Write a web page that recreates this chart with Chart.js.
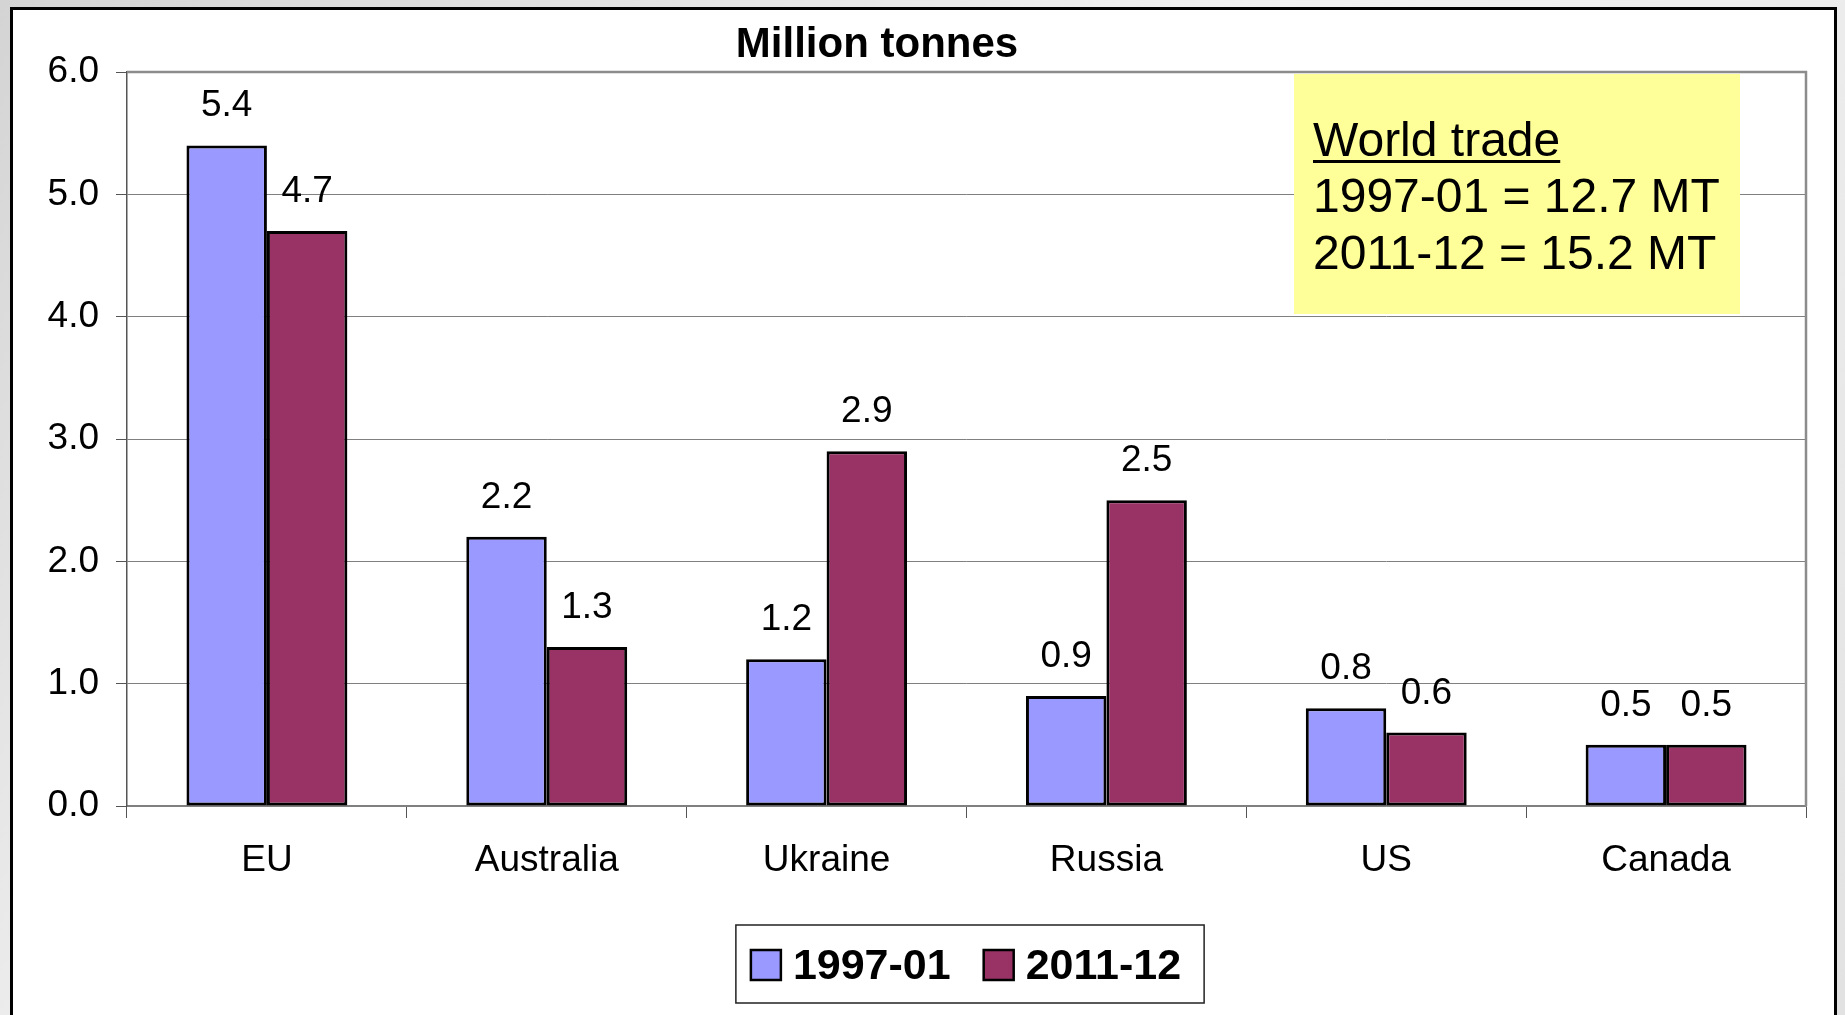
<!DOCTYPE html>
<html>
<head>
<meta charset="utf-8">
<script src="https://cdn.jsdelivr.net/npm/chart.js@4/dist/chart.umd.min.js"></script>
<style>
  html, body { margin: 0; padding: 0; overflow: hidden; }
  body { width: 1845px; height: 1015px; position: relative; background: linear-gradient(135deg, #d4d4d4, #f2f2f2 45%, #e2e2e2); }
  #moldura { position: absolute; left: 10px; top: 7px; width: 1827px; height: 1060px; box-sizing: border-box; border: 3px solid #000; background: #fff; }
  #grafico { position: absolute; left: 0; top: 0; }
</style>
</head>
<body>
<div id="moldura"></div>
<canvas id="grafico" width="1845" height="1015"></canvas>
<script>
// DADOS
let paises = ["EU", "Australia", "Ukraine", "Russia", "US", "Canada"];
let periodos = ["1997-01", "2011-12"];
let valores9701 = [5.4, 2.2, 1.2, 0.9, 0.8, 0.5];
let valores1112 = [4.7, 1.3, 2.9, 2.5, 0.6, 0.5];
let eixoY = { min: 0, max: 6, passo: 1 };
let comercioMundial = [12.7, 15.2];
let titulo = "Million tonnes";

let fonte = '"Liberation Sans", Arial, sans-serif';
let cores = ["#9999FF", "#993366"];

// EXTRAS: caixa amarela, rotulos, titulo e legenda
let extras = {
  id: "extras",
  beforeDatasetsDraw: function(chart) {
    let ctx = chart.ctx;
    let area = chart.chartArea;
    ctx.save();

    // borda da area do grafico
    ctx.strokeStyle = "#8c8c8c";
    ctx.lineWidth = 2.5;
    ctx.beginPath();
    ctx.moveTo(area.left, area.top);
    ctx.lineTo(area.right, area.top);
    ctx.lineTo(area.right, area.bottom);
    ctx.stroke();

    // caixa "World trade"
    ctx.fillStyle = "#FFFF99";
    ctx.fillRect(1294, 74, 446, 240);
    ctx.fillStyle = "#000";
    ctx.font = "48px " + fonte;
    ctx.textAlign = "left";
    ctx.textBaseline = "alphabetic";
    ctx.fillText("World trade", 1313, 156);
    let larg = ctx.measureText("World trade").width;
    ctx.fillRect(1313, 160, larg, 3);
    for (let i = 0; i < periodos.length; i++) {
      ctx.fillText(periodos[i] + " = " + comercioMundial[i].toFixed(1) + " MT", 1313, 212 + i * 57);
    }
    ctx.restore();
  },
  afterDatasetsDraw: function(chart) {
    let ctx = chart.ctx;
    ctx.save();
    ctx.fillStyle = "#000";
    ctx.font = "37px " + fonte;
    ctx.textAlign = "center";
    ctx.textBaseline = "alphabetic";
    chart.data.datasets.forEach(function(ds, i) {
      chart.getDatasetMeta(i).data.forEach(function(barra, j) {
        ctx.fillText(ds.data[j].toFixed(1), barra.x, barra.y - 29);
      });
    });
    ctx.restore();
  },
  afterDraw: function(chart) {
    let ctx = chart.ctx;
    ctx.save();

    // TITULO
    ctx.fillStyle = "#000";
    ctx.font = "bold 42px " + fonte;
    ctx.textAlign = "center";
    ctx.textBaseline = "alphabetic";
    ctx.fillText(titulo, 877, 57);

    // LEGENDA
    ctx.font = "bold 43px " + fonte;
    ctx.textAlign = "left";
    let itens = chart.data.datasets;
    let total = 15 + 23;
    itens.forEach(function(ds, i) {
      total += 30 + 12 + ctx.measureText(ds.label).width;
      if (i > 0) total += 33;
    });
    let x = 970 - total / 2;
    ctx.strokeStyle = "#222";
    ctx.lineWidth = 1.5;
    ctx.strokeRect(x, 925, total, 78);
    x += 15;
    itens.forEach(function(ds) {
      ctx.fillStyle = ds.backgroundColor;
      ctx.fillRect(x, 950, 30, 30);
      ctx.strokeStyle = "#000";
      ctx.lineWidth = 2.5;
      ctx.strokeRect(x, 950, 30, 30);
      ctx.fillStyle = "#000";
      ctx.fillText(ds.label, x + 42, 979);
      x += 42 + ctx.measureText(ds.label).width + 33;
    });
    ctx.restore();
  }
};

// GRAFICO
let ctx = document.getElementById("grafico").getContext("2d");

let grafico = new Chart(ctx, {
  type: "bar",
  data: {
    labels: paises,
    datasets: [
      {
        label: periodos[0],
        data: valores9701,
        backgroundColor: cores[0],
        borderColor: "#000",
        borderWidth: 3,
        borderSkipped: false,
        categoryPercentage: 0.575,
        barPercentage: 1
      },
      {
        label: periodos[1],
        data: valores1112,
        backgroundColor: cores[1],
        borderColor: "#000",
        borderWidth: 3,
        borderSkipped: false,
        categoryPercentage: 0.575,
        barPercentage: 1
      }
    ]
  },
  options: {
    responsive: false,
    animation: false,
    devicePixelRatio: 1,
    layout: {
      padding: { top: 72, right: 39, bottom: 0, left: 0 }
    },
    plugins: {
      legend: { display: false },
      tooltip: { enabled: false }
    },
    scales: {
      x: {
        grid: { drawOnChartArea: false, tickLength: 12, color: "#555", offset: true },
        border: { color: "#808080", width: 1.5 },
        ticks: { color: "#000", font: { family: fonte, size: 37 }, padding: 21 },
        afterFit: function(escala) { escala.height = 209; }
      },
      y: {
        min: eixoY.min,
        max: eixoY.max,
        grid: { color: "#808080", lineWidth: 1, tickLength: 11, tickColor: "#555" },
        border: { color: "#555", width: 1.5 },
        ticks: {
          stepSize: eixoY.passo,
          color: "#000",
          font: { family: fonte, size: 37 },
          padding: 17,
          callback: function(v) { return v.toFixed(1); }
        },
        afterFit: function(escala) { escala.width = 127; }
      }
    }
  },
  plugins: [extras]
});
</script>
</body>
</html>
